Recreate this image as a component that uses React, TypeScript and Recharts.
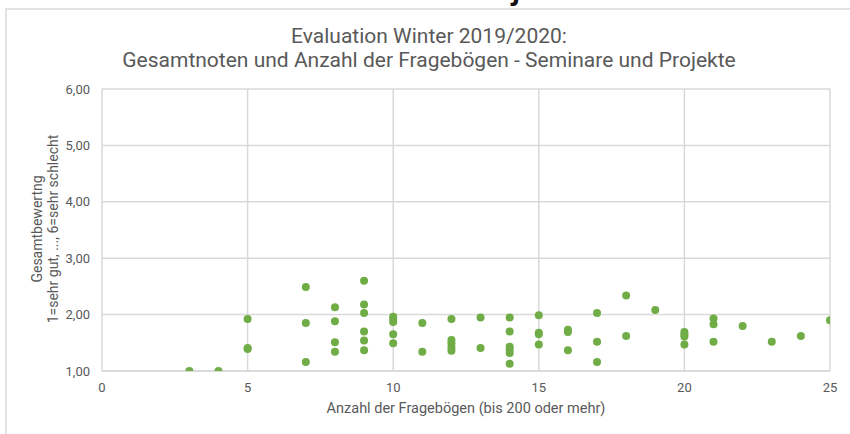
import React from "react";
import {
  ScatterChart,
  Scatter,
  XAxis,
  YAxis,
  CartesianGrid,
} from "recharts";

// Anzahl der Fragebögen (x) and Gesamtnote (y)
const COUNTS = [
  3, 4, 5, 5, 5,
  7, 7, 7,
  8, 8, 8, 8,
  9, 9, 9, 9, 9, 9,
  10, 10, 10, 10, 10,
  11, 11,
  12, 12, 12, 12, 12,
  13, 13,
  14, 14, 14, 14, 14, 14,
  15, 15, 15, 15,
  16, 16, 16,
  17, 17, 17,
  18, 18,
  19,
  20, 20, 20, 20,
  21, 21, 21,
  22, 23, 24, 25,
];
const GRADES = [
  1.0, 1.0, 1.92, 1.41, 1.39,
  2.49, 1.85, 1.16,
  2.13, 1.88, 1.51, 1.34,
  2.6, 2.18, 2.03, 1.7, 1.54, 1.37,
  1.96, 1.92, 1.87, 1.65, 1.49,
  1.85, 1.34,
  1.92, 1.55, 1.49, 1.42, 1.36,
  1.95, 1.41,
  1.95, 1.7, 1.43, 1.38, 1.32, 1.13,
  1.99, 1.68, 1.65, 1.47,
  1.73, 1.69, 1.37,
  2.03, 1.52, 1.16,
  2.34, 1.62,
  2.08,
  1.69, 1.65, 1.61, 1.47,
  1.93, 1.83, 1.52,
  1.8, 1.52, 1.62, 1.9,
];
const X_TICKS = [0, 5, 10, 15, 20, 25];
const Y_TICKS = [1, 2, 3, 4, 5, 6];

const FONT = "Roboto, 'Liberation Sans', sans-serif";
const GREY_TEXT = "#595959";
const GRID = "#d9d9d9";
const GREEN = "#70ad47";

const points = COUNTS.map((n, i) => ({ n, grade: GRADES[i] }));

const fmtGrade = (v: number) => v.toFixed(2).replace(".", ",");

export default function App() {
  return (
    <div
      style={{
        position: "absolute",
        left: 0,
        top: 0,
        width: 850,
        height: 434,
        overflow: "hidden",
        background: "#fff",
        fontFamily: FONT,
      }}
    >
      {/* heading above the chart, cut off by the crop */}
      <div
        style={{
          position: "absolute",
          left: 0,
          width: 850,
          top: -25,
          textAlign: "center",
          fontSize: 30,
          fontWeight: 700,
          color: "#111",
          lineHeight: "30px",
        }}
      >
        Seminare und Projekte
      </div>

      <div
        style={{
          position: "absolute",
          left: 5,
          top: 8,
          width: 860,
          height: 450,
          border: "2px solid #e3e3e3",
          boxSizing: "border-box",
        }}
      />

      <div
        style={{
          position: "absolute",
          left: 0,
          width: 858,
          top: 24,
          textAlign: "center",
          fontSize: 21,
          lineHeight: "24px",
          color: GREY_TEXT,
        }}
      >
        Evaluation Winter 2019/2020:
        <br />
        Gesamtnoten und Anzahl der Fragebögen - Seminare und Projekte
      </div>

      <div
        style={{
          position: "absolute",
          left: 45,
          top: 230,
          width: 0,
          height: 0,
        }}
      >
        <div
          style={{
            position: "absolute",
            left: -150,
            top: -17,
            width: 300,
            transform: "rotate(-90deg)",
            textAlign: "center",
            fontSize: 14,
            lineHeight: "16px",
            color: GREY_TEXT,
          }}
        >
          Gesamtbewertng
          <br />
          1=sehr gut, ..., 6=sehr schlecht
        </div>
      </div>

      <div
        style={{
          position: "absolute",
          left: 102,
          width: 728,
          top: 400,
          textAlign: "center",
          fontSize: 14.5,
          color: GREY_TEXT,
        }}
      >
        Anzahl der Fragebögen (bis 200 oder mehr)
      </div>

      <div style={{ position: "absolute", left: 0, top: 0 }}>
        <ScatterChart
          width={850}
          height={434}
          margin={{ top: 89, right: 20, bottom: 33, left: 52 }}
        >
          <CartesianGrid stroke={GRID} strokeWidth={1.5} />
          <XAxis
            type="number"
            dataKey="n"
            domain={[0, 25]}
            ticks={X_TICKS}
            allowDataOverflow
            height={30}
            tickLine={false}
            tickSize={0}
            tickMargin={12}
            axisLine={{ stroke: GRID, strokeWidth: 1.5 }}
            tick={{ fontSize: 13, fill: GREY_TEXT, fontFamily: FONT }}
          />
          <YAxis
            type="number"
            dataKey="grade"
            domain={[1, 6]}
            ticks={Y_TICKS}
            allowDataOverflow
            width={50}
            axisLine={false}
            tickLine={false}
            tickSize={0}
            tickMargin={12}
            tickFormatter={fmtGrade}
            tick={{ fontSize: 13, fill: GREY_TEXT, fontFamily: FONT }}
          />
          <Scatter
            data={points}
            fill={GREEN}
            isAnimationActive={false}
            shape={(p: any) => (
              <circle cx={p.cx} cy={p.cy} r={4} fill={GREEN} />
            )}
          />
        </ScatterChart>
      </div>
    </div>
  );
}
